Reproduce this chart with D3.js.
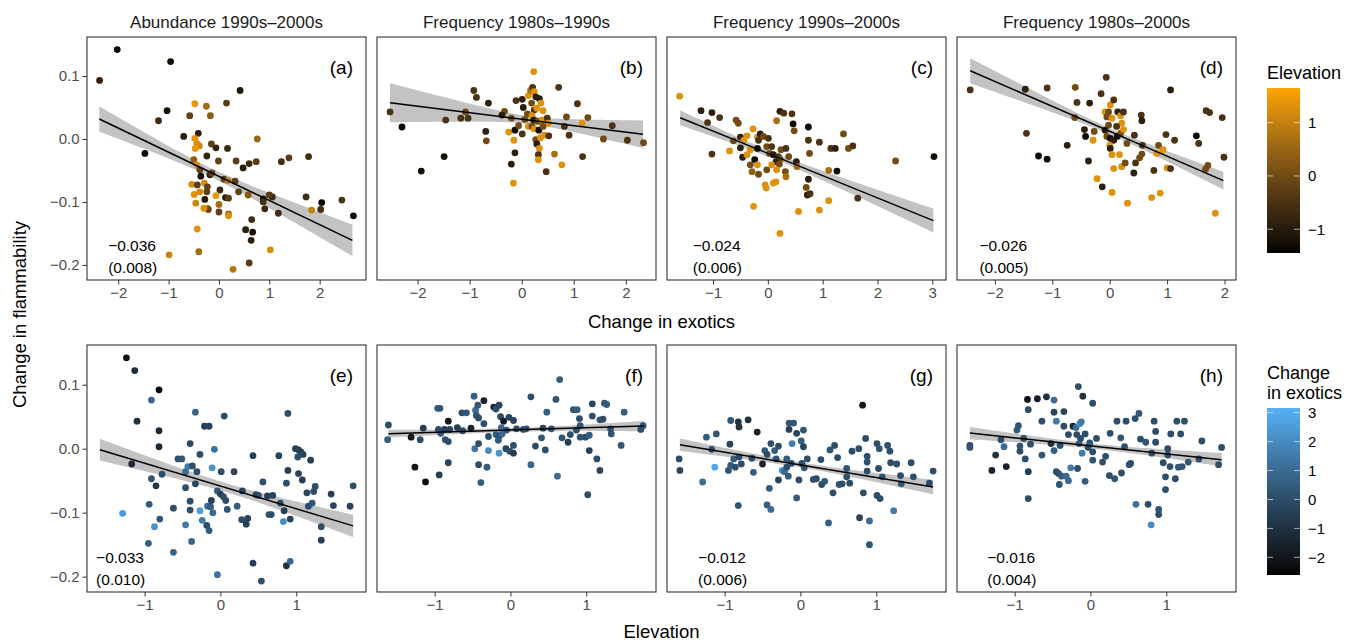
<!DOCTYPE html>
<html><head><meta charset="utf-8">
<script src="https://cdn.jsdelivr.net/npm/d3@7"></script>
<style>body{margin:0;background:#fff;} text{font-family:"Liberation Sans",Arial,Helvetica,sans-serif;}</style>
</head><body>
<svg id="chart" width="1358" height="642"></svg>
<script>
// ---------------- DATA ----------------
const stripTitles = ["Abundance 1990s\u20132000s", "Frequency 1980s\u20131990s", "Frequency 1990s\u20132000s", "Frequency 1980s\u20132000s"];
const panelLetters = ["(a)","(b)","(c)","(d)","(e)","(f)","(g)","(h)"];
const slopeLabels = ["\u22120.036", null, "\u22120.024", "\u22120.026", "\u22120.033", null, "\u22120.012", "\u22120.016"];
const seLabels = ["(0.008)", null, "(0.006)", "(0.005)", "(0.010)", null, "(0.006)", "(0.004)"];
const labelX = [-2.2, null, -1.37, -2.27, -1.64, null, -1.35, -1.36];
const topXTicks = [[-2,-1,0,1,2],[-2,-1,0,1,2],[-1,0,1,2,3],[-2,-1,0,1,2]];
const botXTicks = [-1,0,1];
const yTicks = [-0.2,-0.1,0,0.1];
const elevLegendTicks = [1,0,-1];
const exoLegendTicks = [3,2,1,0,-1,-2];

// points: [x, change in flammability, colour variable]
const ptsA = [[-2.37,0.093,-0.8],[-2.02,0.142,-1.3],[-0.96,0.123,-1.3],[-1.47,-0.023,-1.3],[-1.20,0.029,-0.6],[-1.03,0.045,-1.2],[-0.70,0.004,-0.9],[-0.48,0.056,1.4],[-0.58,0.037,-0.2],[-0.25,0.052,0.6],[-0.17,0.037,0.3],[0.15,0.057,-0.3],[0.42,0.077,-1.1],[-0.41,0.009,-0.9],[-0.48,0.001,1.3],[-0.44,-0.007,1.3],[-0.39,-0.011,1.1],[-0.47,-0.015,1.4],[-0.15,-0.008,-0.2],[-0.06,-0.014,-0.8],[0.17,-0.015,-0.7],[0.76,0.000,0.5],[-0.24,-0.027,-0.8],[-0.01,-0.035,-0.2],[-0.50,-0.033,0.4],[0.34,-0.035,-0.3],[0.48,-0.046,-1.0],[0.60,-0.039,-0.7],[0.74,-0.036,-0.3],[1.24,-0.036,-0.6],[1.39,-0.030,-0.3],[1.78,-0.028,-0.6],[-0.44,-0.041,1.3],[-0.38,-0.049,-0.2],[-0.36,-0.059,-1.3],[-0.18,-0.057,-0.9],[-0.14,-0.054,-0.2],[-0.54,-0.072,1.2],[-0.43,-0.073,-0.3],[-0.29,-0.070,1.2],[-0.23,-0.076,-0.2],[0.02,-0.081,-0.7],[0.10,-0.064,-0.2],[0.18,-0.066,1.0],[0.32,-0.067,-0.3],[0.39,-0.084,-0.2],[0.58,-0.089,0.3],[-0.49,-0.088,1.3],[-0.38,-0.084,1.2],[-0.24,-0.084,-0.2],[-0.46,-0.102,1.1],[-0.28,-0.096,-1.0],[-0.06,-0.090,1.4],[0.13,-0.093,-1.0],[0.19,-0.094,-0.3],[0.00,-0.104,0.6],[0.00,-0.116,-0.2],[-0.23,-0.110,1.2],[-0.21,-0.112,-0.1],[-0.30,-0.110,1.3],[0.19,-0.119,0.6],[0.19,-0.122,1.3],[1.06,-0.092,-0.7],[1.00,-0.089,-0.3],[0.88,-0.095,-1.0],[0.88,-0.100,-0.5],[0.91,-0.111,-0.7],[1.18,-0.118,-0.6],[1.73,-0.092,-0.6],[2.04,-0.101,-1.4],[2.02,-0.112,-0.6],[1.84,-0.113,1.0],[2.44,-0.097,-0.5],[2.67,-0.122,-1.3],[0.65,-0.128,-0.6],[0.53,-0.144,-0.9],[0.67,-0.148,-1.3],[0.64,-0.161,-0.9],[-0.43,-0.143,1.3],[-0.40,-0.179,0.6],[-0.99,-0.184,1.1],[1.02,-0.176,1.2],[0.60,-0.197,-0.3],[0.28,-0.207,0.8]];
const ptsB = [[-2.53,0.043,-0.5],[-2.30,0.019,-1.3],[-1.93,-0.051,-1.3],[-1.49,-0.028,-1.3],[-1.46,0.030,-0.5],[-1.17,0.033,-0.5],[-1.08,0.043,0],[-1.03,0.033,-0.5],[-0.92,0.077,-0.5],[-0.87,0.066,-0.5],[-0.64,0.057,-0.9],[-0.69,0.012,-0.9],[-0.68,-0.003,0],[-0.33,0.044,0],[-0.38,0.038,-0.9],[-0.20,0.033,0],[-0.11,0.061,-0.5],[0.01,0.063,-0.9],[-0.25,0.011,1.3],[-0.13,0.014,-1.3],[-0.15,-0.002,1.3],[-0.13,-0.022,-0.9],[-0.20,-0.040,-0.9],[-0.16,-0.070,1.3],[0.01,0.008,-0.5],[0.03,0.050,-0.9],[0.06,0.031,0],[0.11,0.040,0],[0.13,0.069,1.3],[0.17,0.077,0.7],[0.23,0.107,1.3],[0.21,0.082,-0.5],[0.24,0.075,1.3],[0.27,0.067,-0.9],[0.34,0.064,-0.9],[0.37,0.057,1.3],[0.19,0.057,0],[0.24,0.046,-0.5],[0.29,0.049,1.3],[0.41,0.045,1.3],[0.20,0.037,1.3],[0.23,0.030,-0.9],[0.31,0.028,0],[0.39,0.030,1.3],[0.49,0.033,-0.5],[0.51,0.025,1.3],[0.13,0.020,1.3],[0.20,0.020,0],[0.24,0.016,1.3],[0.33,0.014,-1.3],[0.41,0.020,0],[0.44,0.006,1.3],[0.52,0.005,-0.5],[0.27,-0.001,0],[0.36,0.002,1.3],[0.29,-0.008,-0.9],[0.34,-0.015,1.3],[0.32,-0.025,-0.5],[0.32,-0.033,1.3],[0.47,-0.052,-0.5],[0.63,-0.024,0.7],[0.77,-0.041,1.3],[0.71,0.082,-0.5],[0.86,0.035,0],[0.82,0.020,-0.5],[0.91,0.006,-0.5],[1.07,0.056,-0.5],[1.16,0.025,1.3],[1.27,0.034,0],[1.17,-0.028,-0.5],[1.57,0.000,0],[1.74,0.021,-0.5],[2.03,-0.002,-0.5],[2.34,-0.006,0],[-0.06,0.021,0]];
const ptsC = [[-1.61,0.068,1.3],[-1.22,0.045,-0.9],[-1.02,0.042,-0.9],[-0.88,0.034,-0.5],[-1.10,0.026,-0.5],[-1.02,-0.024,-0.5],[-0.70,-0.019,1.3],[-0.58,0.030,0],[-0.54,0.025,0],[-0.63,-0.003,0],[-0.50,0.003,-0.9],[-0.44,-0.002,1.3],[-0.50,-0.014,-0.9],[-0.38,0.005,1.3],[-0.27,0.016,1.3],[-0.19,0.003,1.3],[-0.14,0.008,-0.9],[-0.17,-0.002,-0.5],[-0.08,0.004,0],[-0.19,-0.015,-1.3],[-0.46,-0.029,-0.9],[-0.38,-0.025,1.3],[-0.32,-0.017,1.3],[-0.24,-0.033,-1.3],[-0.32,-0.041,0],[-0.19,-0.041,1.3],[-0.29,-0.052,0.4],[-0.17,-0.056,0],[-0.26,-0.107,1.3],[-0.05,-0.073,1.3],[-0.03,-0.078,1.3],[0.01,0.001,-0.5],[-0.02,-0.012,0],[0.07,-0.012,-0.5],[0.16,0.029,0.7],[0.22,0.044,-0.9],[0.29,0.041,-0.5],[0.44,0.040,-0.5],[0.46,0.024,-1.3],[0.48,0.013,0],[0.03,-0.023,0],[0.10,-0.025,-0.9],[0.19,-0.028,-0.5],[0.24,-0.017,0],[0.33,-0.015,-0.5],[0.22,-0.032,0],[0.15,-0.036,-0.9],[0.07,-0.041,1.3],[0.21,-0.040,0],[-0.02,-0.049,0],[0.16,-0.049,1.3],[0.32,-0.052,0],[0.33,-0.060,0.7],[0.15,-0.068,1.3],[0.10,-0.070,1.3],[0.38,-0.028,0],[0.52,-0.036,-0.9],[0.53,-0.044,0.7],[0.74,0.019,-1.3],[0.74,-0.002,-0.5],[0.76,-0.023,0],[0.94,-0.005,-0.5],[0.74,-0.064,-0.9],[0.70,-0.077,0],[0.72,-0.089,-0.9],[0.77,-0.087,-0.5],[0.56,-0.115,1.3],[0.94,-0.113,1.3],[0.22,-0.150,1.3],[1.11,-0.098,1.3],[1.11,-0.050,0.7],[1.26,-0.051,-1.3],[1.15,-0.015,-0.5],[1.23,-0.015,-0.9],[1.38,0.008,0],[1.47,-0.015,0],[1.55,-0.011,-0.5],[1.64,-0.094,-0.5],[2.33,-0.035,0],[3.03,-0.028,-1.3]];
const ptsD = [[-2.43,0.078,-0.5],[-1.47,0.079,-0.9],[-1.09,0.081,-0.5],[-1.45,0.009,-0.5],[-1.24,-0.027,-1.3],[-1.09,-0.032,-1.3],[-0.74,-0.010,-0.9],[-0.61,0.034,0],[-0.60,0.082,0],[-0.57,0.058,-0.5],[-0.35,0.057,-0.9],[-0.37,-0.035,-0.9],[-0.44,0.015,-0.9],[-0.42,0.004,-1.3],[-0.29,-0.002,1.3],[-0.27,0.012,0],[-0.22,-0.063,1.3],[-0.13,-0.076,-0.9],[-0.15,0.072,-0.5],[-0.06,0.098,-0.5],[-0.08,0.043,1.3],[-0.02,0.043,0],[0.01,0.054,1.3],[0.07,0.062,-0.5],[-0.05,0.035,0],[0.04,0.033,1.3],[-0.02,0.022,0],[-0.08,0.014,-0.9],[-0.05,0.004,0],[0.01,0.001,-1.3],[0.07,-0.002,-0.9],[0.13,0.004,-1.3],[0.19,0.009,0],[0.14,0.043,-0.9],[0.19,0.037,1.3],[0.24,0.043,-0.5],[0.21,0.025,1.3],[0.24,0.015,1.3],[0.12,0.020,-0.5],[0.00,-0.010,1.3],[0.01,-0.015,-0.9],[0.04,-0.025,1.3],[0.17,-0.025,1.3],[0.07,-0.047,1.3],[0.21,-0.044,1.3],[0.27,-0.038,0],[0.04,-0.085,1.3],[0.31,-0.102,1.3],[0.30,-0.007,0],[0.43,0.006,-0.5],[0.45,-0.038,-0.5],[0.42,-0.054,-0.9],[0.52,-0.030,0],[0.56,-0.024,0],[0.55,0.038,-0.5],[0.56,0.029,-0.9],[0.57,-0.010,-0.5],[0.77,-0.050,-0.5],[0.73,-0.093,1.3],[0.88,-0.086,1.3],[0.85,-0.010,0],[0.93,-0.017,1.3],[0.82,-0.023,1.3],[0.98,0.007,-0.5],[1.06,0.078,-0.9],[1.13,-0.002,-0.5],[1.00,-0.046,1.3],[1.06,-0.047,-0.5],[1.51,0.005,-1.3],[1.55,-0.007,-0.5],[1.68,0.045,-0.5],[1.74,0.042,-0.5],[1.96,0.034,-0.5],[1.99,-0.029,-0.5],[1.71,-0.042,0],[1.67,-0.048,0],[1.84,-0.118,1.3]];
const ptsE = [[-1.24,0.142,-2.2],[-1.13,0.122,-1.2],[-0.81,0.092,-2.4],[-0.91,0.076,0.8],[-1.10,0.043,-1.0],[-0.81,0.028,-1.2],[-0.81,0.003,-1.2],[-1.17,-0.024,-1.3],[-0.91,-0.047,0.3],[-0.85,-0.058,-0.8],[-0.77,-0.040,0],[-0.94,-0.087,0.5],[-1.29,-0.101,2.5],[-0.87,-0.122,2.2],[-0.80,-0.110,0.3],[-0.95,-0.148,0.6],[-0.62,-0.093,0],[-0.62,-0.162,0.8],[-0.33,0.057,0.8],[-0.40,0.008,-0.3],[-0.56,-0.016,0],[-0.51,-0.016,0.3],[-0.27,-0.009,0],[-0.21,0.035,-0.5],[-0.15,0.035,-0.3],[-0.08,-0.001,1.2],[0.05,0.051,0],[-0.43,-0.028,1.5],[-0.37,-0.027,0],[-0.46,-0.036,1.0],[-0.31,-0.036,0],[-0.11,-0.030,2.2],[0.01,-0.036,0],[0.18,-0.036,-0.3],[-0.33,-0.055,-0.3],[-0.46,-0.061,0],[-0.40,-0.082,0],[-0.40,-0.096,0],[-0.27,-0.097,2.5],[-0.17,-0.090,1.0],[-0.13,-0.091,0.5],[-0.10,-0.100,1.0],[-0.24,-0.112,1.5],[-0.18,-0.120,0],[-0.15,-0.128,0.5],[-0.46,-0.119,1.5],[-0.38,-0.145,0.8],[-0.04,-0.066,0.5],[0.00,-0.071,-0.5],[0.04,-0.075,0],[0.07,-0.081,0],[-0.12,-0.081,-0.5],[0.09,-0.095,0.3],[0.22,-0.090,0.5],[0.29,-0.066,-0.3],[0.28,-0.111,0],[0.36,-0.109,-0.3],[0.34,-0.118,-0.5],[0.43,-0.011,-0.5],[0.47,-0.072,-0.3],[0.50,-0.073,0],[0.56,-0.052,0],[0.62,-0.074,-0.5],[0.69,-0.073,-0.3],[0.64,-0.103,0.3],[0.67,-0.103,0],[0.77,-0.011,-0.3],[0.79,-0.085,0],[0.83,-0.114,2.0],[0.84,-0.097,-0.5],[0.87,-0.054,0],[0.89,-0.034,-0.5],[0.89,0.055,0],[0.92,-0.110,-0.3],[0.99,0.000,-0.5],[1.03,-0.002,-0.3],[1.06,-0.005,-0.5],[1.09,-0.009,-0.3],[1.02,-0.013,0],[1.03,-0.039,-0.3],[1.08,-0.049,-0.5],[1.19,-0.018,-0.5],[1.14,-0.069,-0.3],[1.25,-0.059,0],[1.23,-0.067,0],[1.16,-0.090,0],[1.21,-0.085,0.3],[1.33,-0.122,0],[1.33,-0.143,-0.5],[1.46,-0.071,-0.5],[1.49,-0.089,-0.3],[1.71,-0.090,-0.3],[1.75,-0.058,0],[0.43,-0.179,-0.5],[0.54,-0.207,0],[-0.04,-0.197,1.2],[0.87,-0.183,-1.0],[0.92,-0.176,1.0]];
const ptsF = [[-1.61,0.037,0],[-1.62,0.014,0.5],[-1.31,0.018,-2.0],[-1.19,0.014,0],[-1.15,0.032,-0.5],[-1.26,-0.029,-2.0],[-1.12,-0.052,-2.3],[-0.94,-0.041,-0.5],[-0.82,-0.022,-0.3],[-0.96,0.063,0.5],[-0.93,0.063,0.3],[-0.95,0.030,0],[-0.92,0.024,0.3],[-0.87,0.030,-0.5],[-0.82,0.043,-2.0],[-0.86,0.014,0.3],[-0.82,0.011,0],[-0.80,0.030,-0.3],[-0.70,0.033,-0.5],[-0.64,0.056,0],[-0.58,0.056,0.3],[-0.63,0.028,0],[-0.52,0.032,-1.5],[-0.48,0.082,0.5],[-0.46,0.060,1.0],[-0.43,0.068,0.3],[-0.45,0.052,0.3],[-0.42,0.048,0],[-0.35,0.075,-1.5],[-0.35,0.039,0],[-0.47,0.000,1.2],[-0.42,0.008,0],[-0.42,-0.025,0],[-0.31,-0.029,0.5],[-0.39,-0.053,0.5],[-0.29,0.019,0],[-0.29,-0.003,2.0],[-0.22,0.065,-1.5],[-0.19,0.062,0],[-0.15,0.068,-0.3],[-0.13,0.050,0],[-0.19,0.022,0.5],[-0.15,0.019,0],[-0.11,0.023,1.0],[-0.16,0.013,0.5],[-0.15,-0.007,2.3],[-0.12,0.033,1.0],[-0.09,0.043,-1.8],[-0.05,0.029,0.3],[-0.06,0.000,-0.3],[-0.01,-0.004,0],[0.04,-0.007,-0.5],[0.04,0.005,0],[-0.02,0.049,-0.3],[0.04,0.044,-0.3],[0.08,0.031,0],[0.17,0.030,0],[0.21,0.031,0.3],[0.27,0.081,0],[0.27,-0.025,0.8],[0.33,0.004,0],[0.41,0.017,0.3],[0.43,0.032,-0.3],[0.46,-0.002,0],[0.48,0.057,0.5],[0.54,0.031,0.3],[0.62,-0.043,1.0],[0.60,0.077,0.3],[0.65,0.108,0.5],[0.68,0.017,0.3],[0.76,0.010,-0.5],[0.79,0.022,0],[0.83,0.061,0.3],[0.88,0.061,0.5],[0.87,0.029,0],[0.91,0.047,0],[0.92,0.036,0.3],[0.92,0.018,0.3],[0.99,0.018,0],[1.04,0.021,0.5],[1.04,-0.003,-0.5],[1.08,0.070,-0.3],[1.08,0.051,0],[1.02,-0.072,0],[1.14,-0.016,0],[1.18,-0.034,-0.3],[1.18,0.045,0.3],[1.22,0.046,0],[1.24,0.071,0.3],[1.27,0.069,0.5],[1.32,0.031,0],[1.33,0.023,0.3],[1.46,0.005,0.3],[1.50,0.057,0.5],[1.72,0.030,0],[1.75,0.036,0.3]];
const ptsG = [[-1.60,-0.016,0],[-1.59,-0.034,-0.3],[-1.29,-0.052,1.0],[-1.24,0.018,0.5],[-1.17,-0.001,0],[-1.13,-0.029,2.8],[-1.11,0.023,0.3],[-0.95,-0.034,0.3],[-0.93,0.007,-0.3],[-0.92,0.044,0.3],[-0.92,-0.026,0.5],[-0.88,-0.016,0.5],[-0.86,-0.029,0],[-0.82,0.042,-1.0],[-0.81,0.034,-1.0],[-0.81,-0.013,0],[-0.82,-0.089,0.3],[-0.78,-0.024,0],[-0.69,0.045,-1.0],[-0.64,-0.015,0],[-0.62,-0.037,0.5],[-0.57,0.026,-1.5],[-0.50,-0.024,-1.5],[-0.47,-0.003,0.5],[-0.44,-0.009,0],[-0.44,-0.088,0.5],[-0.39,-0.095,1.0],[-0.41,-0.062,0.5],[-0.39,0.008,0],[-0.34,-0.003,0.5],[-0.32,-0.016,0.3],[-0.29,0.004,0],[-0.29,-0.049,-0.3],[-0.24,-0.034,2.3],[-0.21,-0.036,1.0],[-0.18,-0.016,0.5],[-0.18,-0.029,0],[-0.16,-0.043,0.5],[-0.15,0.040,0.3],[-0.09,0.040,0.3],[-0.15,0.030,-0.5],[-0.11,0.008,1.5],[-0.12,-0.023,0],[-0.05,0.024,-0.3],[0.04,0.029,0.3],[0.01,0.012,0.5],[0.04,0.003,-0.3],[-0.05,-0.077,0.5],[-0.02,-0.049,0],[0.02,-0.023,0],[0.05,-0.030,0.3],[0.09,-0.016,0],[0.17,-0.048,0],[0.21,-0.047,0],[0.27,-0.017,0],[0.28,-0.056,0],[0.32,-0.051,0.3],[0.37,-0.116,0.5],[0.39,-0.002,0.3],[0.43,-0.069,0],[0.45,0.005,0],[0.49,-0.014,0],[0.51,-0.056,0.3],[0.55,-0.055,0],[0.61,-0.031,0.3],[0.61,-0.044,0],[0.65,-0.054,0],[0.68,-0.004,0],[0.77,0.000,0],[0.78,-0.108,-0.3],[0.82,0.068,-2.0],[0.83,-0.069,0],[0.86,0.016,0],[0.88,-0.012,0],[0.88,-0.021,0],[0.88,-0.035,0],[0.91,-0.113,1.0],[0.91,-0.150,0.3],[1.01,0.008,0],[1.04,0.000,0.3],[1.03,-0.031,0],[1.01,-0.073,0],[1.05,-0.078,0],[1.08,-0.044,0.3],[1.15,0.005,0],[1.18,-0.004,0],[1.19,-0.022,0],[1.23,-0.097,1.5],[1.27,-0.024,0],[1.32,-0.042,0],[1.33,-0.055,0.3],[1.46,-0.022,0],[1.49,-0.044,0],[1.70,-0.054,0],[1.75,-0.035,0]];
const ptsH = [[-1.59,0.005,0],[-1.59,0.002,0.3],[-1.30,-0.034,-1.5],[-1.25,-0.010,-1.0],[-1.18,0.014,0],[-1.14,0.003,1.0],[-1.11,-0.028,-1.5],[-0.97,0.029,0.5],[-0.95,0.036,0.3],[-0.93,0.004,0.3],[-0.93,-0.004,0],[-0.88,0.016,0],[-0.86,-0.016,0],[-0.83,0.077,-2.2],[-0.82,0.061,0],[-0.82,-0.036,-0.5],[-0.82,-0.078,0],[-0.79,0.007,0],[-0.70,0.078,-1.8],[-0.64,0.043,0],[-0.64,-0.010,0.3],[-0.58,0.081,-1.0],[-0.52,0.008,-1.0],[-0.48,0.076,1.0],[-0.48,0.057,-0.3],[-0.48,-0.003,0.5],[-0.45,0.043,1.5],[-0.45,-0.036,0],[-0.42,-0.039,0],[-0.41,-0.056,0.3],[-0.40,0.005,0],[-0.38,-0.043,0.5],[-0.35,0.058,-0.3],[-0.32,-0.043,1.0],[-0.29,-0.050,1.0],[-0.35,0.035,0],[-0.29,0.022,0],[-0.26,-0.030,1.5],[-0.23,0.035,-1.5],[-0.19,0.033,1.0],[-0.18,0.022,0],[-0.16,0.097,0],[-0.17,-0.031,0],[-0.15,0.008,0.5],[-0.14,0.039,2.0],[-0.12,0.042,1.5],[-0.11,-0.007,1.5],[-0.10,0.082,-1.0],[-0.13,0.016,0],[-0.07,0.023,0],[-0.07,-0.051,0.5],[-0.03,0.002,0],[-0.01,0.009,0.3],[0.03,0.071,0],[0.03,-0.005,0],[0.03,-0.018,0.3],[0.08,0.016,0],[0.16,-0.021,0],[0.20,-0.012,0],[0.26,0.024,0],[0.25,-0.042,0],[0.32,-0.047,0.3],[0.35,0.043,0],[0.40,0.017,0.3],[0.41,-0.038,0],[0.45,0.003,0],[0.47,0.043,0],[0.51,-0.025,0.3],[0.53,-0.023,0],[0.59,0.047,0],[0.64,0.055,0.3],[0.60,-0.087,1.2],[0.66,0.015,0],[0.73,0.010,0.3],[0.76,-0.087,0],[0.81,-0.007,0],[0.80,-0.119,2.0],[0.84,0.043,0],[0.86,0.027,0],[0.86,0.010,0],[0.90,-0.095,0.3],[0.90,-0.103,0],[0.96,-0.022,0],[0.99,-0.044,0],[0.99,-0.064,0],[1.02,0.000,0],[1.02,-0.010,0],[1.05,-0.028,0],[1.06,0.023,0],[1.12,-0.047,0],[1.14,0.043,0],[1.16,-0.029,0.3],[1.19,0.023,0],[1.21,-0.028,0.3],[1.24,0.043,0],[1.29,-0.021,0.3],[1.43,-0.016,0],[1.47,0.012,0],[1.69,-0.025,0],[1.73,0.002,0]];
const panelPoints = [ptsA, ptsB, ptsC, ptsD, ptsE, ptsF, ptsG, ptsH];

// fitted line ends [x0, y0, x1, y1] and CI half-widths [left, minimum, x at minimum, right]
const fitLines = [[-2.375,0.0317,2.65,-0.161],[-2.53,0.0576,2.33,0.0075],[-1.60,0.0338,3.02,-0.1297],[-2.43,0.1084,1.98,-0.0662],[-1.59,-0.0016,1.75,-0.1207],[-1.61,0.0234,1.76,0.0353],[-1.59,0.0062,1.75,-0.060],[-1.59,0.0243,1.73,-0.0172]];
const fitBands = [[0.020,0.007,-0.17,0.025],[0.031,0.006,0.15,0.022],[0.012,0.005,0.1,0.019],[0.020,0.005,0.0,0.014],[0.017,0.007,0.1,0.0175],[0.006,0.003,0.05,0.008],[0.0096,0.004,0.05,0.0114],[0.0096,0.004,0.05,0.0104]];

// ---------------- LAYOUT ----------------
const svg = d3.select("#chart");
const panelW = 279;
const colLeft = i => 87 + i*290;
const rows = [{top:37,bottom:280},{top:345,bottom:592}];
const topXDomains = [[-2.62,2.92],[-2.78,2.58],[-1.84,3.25],[-2.66,2.20]];
const botXDomain = [-1.76,1.92];
const yDomain = [-0.224,0.162];

const elevColor = d3.scaleLinear().domain([-1.445,1.65]).range(["#000000","#FFA500"]).interpolate(d3.interpolateLab).clamp(true);
const exoColor = d3.scaleLinear().domain([-2.61,3.16]).range(["#000000","#56B1F7"]).interpolate(d3.interpolateLab).clamp(true);

const fmtY = d3.format(".1f");
const fmtX = d3.format("d");
const defs = svg.append("defs");

for (let p = 0; p < 8; p++) {
  const r = p < 4 ? 0 : 1, c = p % 4;
  const L = colLeft(c), R = L + panelW, T = rows[r].top, B = rows[r].bottom;
  const x = d3.scaleLinear().domain(r === 0 ? topXDomains[c] : botXDomain).range([L, R]);
  const y = d3.scaleLinear().domain(yDomain).range([B, T]);
  const color = r === 0 ? elevColor : exoColor;
  const g = svg.append("g");

  defs.append("clipPath").attr("id","clip"+p).append("rect").attr("x",L).attr("y",T).attr("width",panelW).attr("height",B-T);
  const gc = g.append("g").attr("clip-path","url(#clip"+p+")");

  // confidence band
  const [x0,y0,x1,y1] = fitLines[p];
  const [hL,h0,xm,hR] = fitBands[p];
  const cL = (hL*hL - h0*h0) / ((x0-xm)*(x0-xm));
  const cR = (hR*hR - h0*h0) / ((x1-xm)*(x1-xm));
  const fy = xv => y0 + (y1-y0)*(xv-x0)/(x1-x0);
  const hw = xv => Math.sqrt(h0*h0 + (xv < xm ? cL : cR)*(xv-xm)*(xv-xm));
  const xs = d3.range(0,81).map(i => x0 + (x1-x0)*i/80);
  const area = d3.area().x(d => x(d)).y0(d => y(fy(d)-hw(d))).y1(d => y(fy(d)+hw(d)));
  gc.append("path").datum(xs).attr("d", area).attr("fill","#bdbdbd").attr("opacity",0.9);

  // points
  gc.selectAll("circle").data(panelPoints[p]).join("circle")
    .attr("cx", d => x(d[0])).attr("cy", d => y(d[1])).attr("r", 3.4)
    .attr("fill", d => color(d[2]));

  // fitted line
  gc.append("line").attr("x1",x(x0)).attr("y1",y(y0)).attr("x2",x(x1)).attr("y2",y(y1))
    .attr("stroke","#000").attr("stroke-width",1.5);

  // border
  g.append("rect").attr("x",L).attr("y",T).attr("width",panelW).attr("height",B-T)
    .attr("fill","none").attr("stroke","#333").attr("stroke-width",1.1);

  // x axis
  const ticksX = r === 0 ? topXTicks[c] : botXTicks;
  const xa = d3.axisBottom(x).tickValues(ticksX).tickFormat(fmtX).tickSize(4.5).tickPadding(3);
  const gx = g.append("g").attr("transform",`translate(0,${B})`).call(xa);
  gx.select(".domain").remove();
  gx.selectAll(".tick line").attr("stroke","#333");
  gx.selectAll(".tick text").attr("fill","#4d4d4d").attr("font-size",15).attr("font-family","Liberation Sans, Arial, sans-serif");

  // y axis
  if (c === 0) {
    const ya = d3.axisLeft(y).tickValues(yTicks).tickFormat(fmtY).tickSize(4.5).tickPadding(3);
    const gy = g.append("g").attr("transform",`translate(${L},0)`).call(ya);
    gy.select(".domain").remove();
    gy.selectAll(".tick line").attr("stroke","#333");
    gy.selectAll(".tick text").attr("fill","#4d4d4d").attr("font-size",15).attr("font-family","Liberation Sans, Arial, sans-serif");
  }

  // panel letter
  g.append("text").attr("x",R-13).attr("y",T+37).attr("text-anchor","end")
    .attr("font-size",19).attr("fill","#000").text(panelLetters[p]);

  // slope / se labels
  if (slopeLabels[p]) {
    g.append("text").attr("x",x(labelX[p])).attr("y",y(-0.17)).attr("dy","0.35em")
      .attr("font-size",15.5).attr("fill","#000").text(slopeLabels[p]);
    g.append("text").attr("x",x(labelX[p])).attr("y",y(-0.205)).attr("dy","0.35em")
      .attr("font-size",15.5).attr("fill","#000").text(seLabels[p]);
  }

  // strip title
  if (r === 0) {
    g.append("text").attr("x",(L+R)/2).attr("y",28).attr("text-anchor","middle")
      .attr("font-size",17).attr("fill","#1a1a1a").text(stripTitles[c]);
  }
}

// axis titles
svg.append("text").attr("x",661.5).attr("y",328).attr("text-anchor","middle").attr("font-size",18.5).attr("fill","#000").text("Change in exotics");
svg.append("text").attr("x",661.5).attr("y",638).attr("text-anchor","middle").attr("font-size",18.5).attr("fill","#000").text("Elevation");
svg.append("text").attr("transform","translate(26,314.5) rotate(-90)").attr("text-anchor","middle").attr("font-size",18.5).attr("fill","#000").text("Change in flammability");

// ---------------- LEGENDS ----------------
function colorbar(id, scale, top, bottom, ticks, titleLines, titleY) {
  const bx = 1267, bw = 33;
  const dom = scale.domain();
  const grad = defs.append("linearGradient").attr("id",id).attr("x1",0).attr("y1",1).attr("x2",0).attr("y2",0);
  d3.range(0,1.0001,0.05).forEach(t => grad.append("stop").attr("offset",t).attr("stop-color", scale(dom[0] + t*(dom[1]-dom[0]))));
  svg.append("rect").attr("x",bx).attr("y",top).attr("width",bw).attr("height",bottom-top).attr("fill",`url(#${id})`);
  const ys = d3.scaleLinear().domain(dom).range([bottom, top]);
  const gl = svg.append("g");
  ticks.forEach(v => {
    gl.append("line").attr("x1",bx).attr("x2",bx+6).attr("y1",ys(v)).attr("y2",ys(v)).attr("stroke","#fff").attr("stroke-opacity",0.6);
    gl.append("line").attr("x1",bx+bw-6).attr("x2",bx+bw).attr("y1",ys(v)).attr("y2",ys(v)).attr("stroke","#fff").attr("stroke-opacity",0.6);
    gl.append("text").attr("x",bx+bw+8).attr("y",ys(v)).attr("dy","0.35em").attr("font-size",15).attr("fill","#000").text(fmtX(v));
  });
  titleLines.forEach((t,i) => svg.append("text").attr("x",bx).attr("y",titleY + i*20).attr("font-size",18).attr("fill","#000").text(t));
}
colorbar("gradElev", elevColor, 88, 253, elevLegendTicks, ["Elevation"], 79);
colorbar("gradExo", exoColor, 408, 575, exoLegendTicks, ["Change","in exotics"], 379);
</script>
</body></html>
